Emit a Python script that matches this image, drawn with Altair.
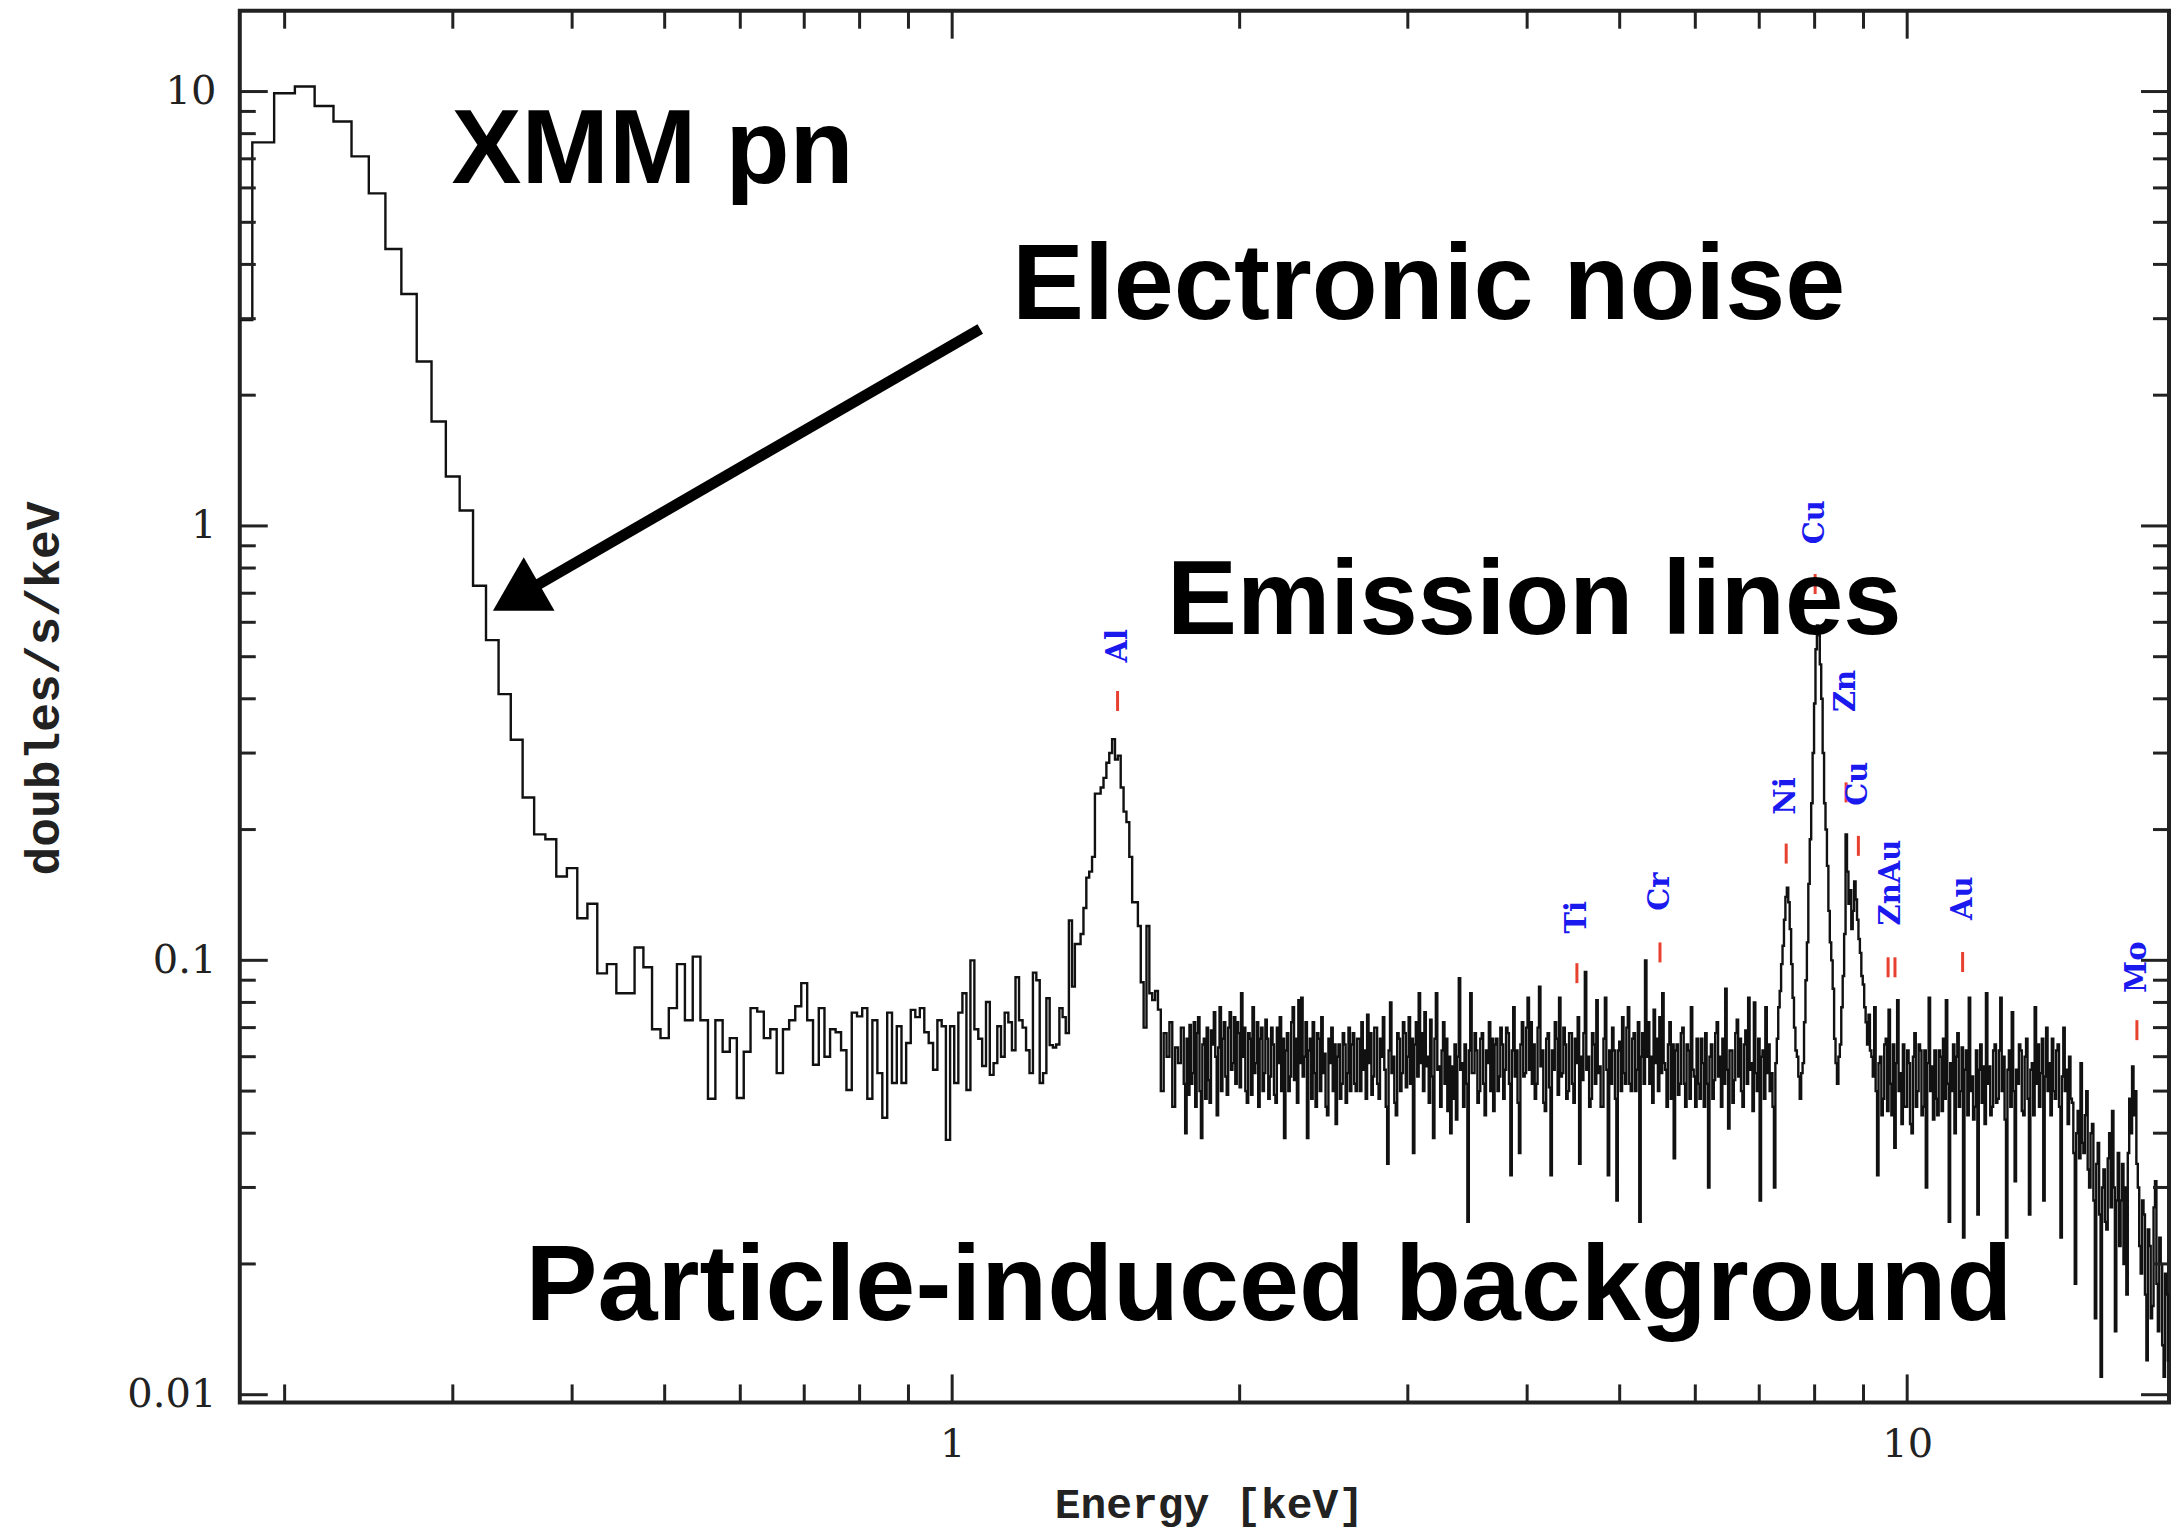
import altair as alt
import numpy as np
import pandas as pd

# ---------------- spectrum values (doubles/s/keV) ----------------
# Segment A: 10 eV channels, first channel starts at 0.175 keV
seg_a_start_kev = 0.175
seg_a_channel_kev = 0.01
seg_a_rate = [
    2.98,
    7.64, 9.91, 10.27, 9.26, 8.53, 7.09, 5.83, 4.34, 3.42, 2.39,
    1.74, 1.30, 1.085, 0.728, 0.546, 0.410, 0.322, 0.237, 0.195, 0.19,
    0.156, 0.163, 0.125, 0.135, 0.0933, 0.098, 0.084, 0.084, 0.107, 0.0964,
    0.0694, 0.0662, 0.0776, 0.098, 0.0728, 0.102,
    0.0728, 0.048, 0.0728, 0.0616, 0.0662, 0.0482, 0.0616, 0.0776, 0.0762, 0.0662,
    0.0694, 0.055, 0.0694, 0.0728, 0.0784, 0.0886, 0.0728,
    0.0575, 0.0776, 0.060, 0.0694, 0.0683, 0.0621, 0.0503, 0.0758, 0.0743, 0.0776,
    0.048, 0.0728, 0.055, 0.0434, 0.0758, 0.0522, 0.0705, 0.0522, 0.0645, 0.0769,
    0.074, 0.0776, 0.0683, 0.0645, 0.056, 0.0728, 0.0705, 0.0386, 0.0705, 0.0522,
    0.0758, 0.084, 0.0503, 0.100, 0.0694, 0.066, 0.0571, 0.0802, 0.0545, 0.058,
    0.0705, 0.060, 0.0758, 0.072, 0.0621, 0.0914, 0.0728, 0.070, 0.0621, 0.055,
    0.0937, 0.090, 0.0522, 0.055, 0.0818, 0.0638, 0.063, 0.064, 0.0776, 0.074, 0.068, 0.1235,
]

# Segment B: Al line region, log-spaced bins of 0.003 dex (units of 1e-3 doubles/s/keV)
seg_b_dlog = 0.003
seg_b_rate_milli = [
    87, 109, 109, 115, 132, 155, 160, 173, 242, 242,
    250, 263, 285, 300, 323, 290, 296, 250, 220, 208,
    173, 136, 136, 120, 89, 70, 120, 84, 81, 85,
    77, 50, 68, 60, 72, 46, 63, 58, 70,
]

# Segment C: crowded channels above ~1.75 keV, log-spaced bins of 0.0015 dex (1e-3 doubles/s/keV)
seg_c_dlog = 0.0015
seg_c_rate_milli = [
    52, 40,
    66, 49, 71, 52, 55, 72, 46, 68, 74, 50, 39, 64, 66, 48, 70, 53, 47, 69, 64, 76,
    60, 44, 63, 78, 50, 66, 72, 54, 49, 70, 76, 56, 58, 74, 52, 72, 68, 51, 84, 60,
    70, 50, 47, 68, 66, 49, 78, 55, 58, 72, 46, 66, 70, 50, 55, 73, 66, 48, 54, 70,
    64, 49, 47, 70, 58, 74, 50, 66, 39, 62, 68, 50, 54, 72, 78, 53, 66, 47, 81, 58,
    82, 54, 60, 72, 39, 62, 66, 48, 72, 55, 46, 68, 66, 50, 74, 55, 61, 46, 44, 66,
    58, 70, 50, 64, 42, 60, 64, 48, 52, 68, 64, 47, 55, 70, 50, 64, 68, 52, 50, 66,
    66, 50, 72, 56, 62, 48, 75, 58, 68, 49, 54, 70, 70, 52, 48, 66, 60, 74, 56, 46,
    34, 62, 80, 55, 60, 47, 44, 68, 66, 50, 55, 72, 68, 51, 60, 74, 52, 66, 36, 64,
    72, 54, 84, 58, 68, 50, 76, 57, 60, 47, 73, 54, 39, 66, 84, 56, 57, 46, 62, 72,
    52, 66, 45, 60, 40, 57, 48, 64, 43, 60, 91, 56, 58, 46, 64, 52, 25, 62, 84, 55,
    55, 68, 62, 47, 50, 66, 68, 52, 44, 62, 58, 72, 50, 66, 45, 64, 66, 50, 54, 70,
    64, 48, 56, 70, 68, 52, 32, 62, 78, 54, 62, 47, 36, 64, 72, 54, 55, 70, 82, 56,
    72, 52, 64, 48, 52, 70, 87, 57, 62, 47, 45, 66, 68, 51, 32, 62, 56, 72, 66, 49,
    82, 54, 55, 70, 64, 48, 50, 68, 68, 52, 47, 66, 58, 74, 34, 60, 53, 68, 94, 56,
    60, 46, 48, 68, 64, 52, 81, 55, 57, 46, 46, 66, 82, 56, 32, 62, 52, 70, 62, 48,
    28, 62, 65, 50, 74, 55, 52, 70, 78, 52, 50, 66, 68, 50, 56, 72, 25, 60, 68, 52,
    100, 60, 72, 52, 60, 47, 77, 58, 66, 50, 74, 55, 84, 58, 56, 46, 64, 72, 48, 64,
    35, 62, 64, 49, 52, 68, 70, 52, 46, 64, 62, 48, 78, 56, 54, 46, 66, 52, 48, 66,
    58, 46, 68, 52, 30, 60, 64, 48, 53, 68, 72, 54, 60, 46, 66, 52, 86, 56, 41, 62,
    62, 47, 53, 68, 73, 54, 66, 50, 46, 64, 69, 52, 82, 56, 58, 45, 80, 55, 50, 66,
    28, 60, 62, 48, 78, 55, 64, 50, 55, 46, 30, 58, 66, 78, 85, 98, 108, 124, 140, 147,
    136, 118, 98, 82, 70, 62, 60, 54, 48, 55, 58, 72, 90, 110, 150, 190, 230, 300, 390, 520,
    590, 560, 480, 400, 300, 230, 200, 165, 130, 110, 100, 86, 66, 58, 52, 60, 64, 78, 92, 115,
    195, 160, 135, 145, 118, 130, 152, 138, 124, 112, 104, 92, 88, 78, 72, 64, 75, 62, 60, 54,
    78, 50, 32, 58, 60, 44, 48, 64, 66, 45, 77, 52, 44, 64, 37, 58, 81, 50, 55, 42,
    64, 46, 46, 62, 58, 42, 40, 60, 68, 46, 50, 64, 62, 44, 46, 62, 30, 58, 82, 50,
    57, 43, 62, 48, 44, 62, 60, 45, 66, 48, 81, 52, 25, 58, 50, 64, 40, 60, 68, 46,
    50, 63, 23, 56, 62, 44, 82, 50, 54, 43, 46, 62, 26, 56, 64, 47, 57, 42, 84, 52,
    57, 44, 46, 62, 64, 47, 48, 62, 82, 50, 60, 43, 23, 56, 62, 46, 76, 50, 31, 56,
    52, 64, 62, 45, 44, 60, 66, 48, 26, 56, 58, 44, 78, 52, 64, 46, 55, 66, 28, 54,
    70, 50, 58, 44, 66, 50, 48, 62, 64, 46, 23, 54, 70, 50, 56, 42, 60, 48, 47, 36,
    18, 40, 45, 35, 58, 38, 36, 44, 50, 33, 30, 40, 42, 28, 15, 34, 38, 26, 11, 30,
    33, 25, 24, 35, 40, 27, 45, 30, 14, 28, 36, 22, 28, 34, 20, 30, 17, 36, 48, 40,
    57, 44, 50, 34, 30, 22, 19, 28, 26, 17, 12, 24, 22, 15, 16, 27, 31, 18, 14, 23,
    20, 13, 11, 19, 17, 12, 13, 18,
]

# ---------------- emission line identifications ----------------
label_names = ["Al", "Ti", "Cr", "Ni", "Cu", "Zn", "Cu", "ZnAu", "Au", "Mo"]
label_energy = [1.49, 4.51, 5.51, 7.47, 8.01, 8.63, 8.89, 9.62, 11.43, 17.4]
label_level = [0.53, 0.1256, 0.144, 0.239, 1.02, 0.417, 0.255, 0.151, 0.139, 0.0964]
marker_energy = [1.49, 4.51, 5.51, 7.47, 8.01, 8.63, 8.89, 9.55, 9.71, 11.43, 17.4]
marker_level = [0.375, 0.0886, 0.0989, 0.167, 0.697, 0.231, 0.174, 0.0914, 0.0914, 0.094, 0.0655]

# ---------------- annotations ----------------
note_texts = ["XMM pn", "Electronic noise", "Emission lines", "Particle-induced background"]
note_energy = [0.2991, 1.155, 1.679, 0.3575]
note_level = [6.15, 2.995, 0.5634, 0.01483]
note_fontsize = [105, 108, 105, 108]
arrow_energy = [1.070, 0.3494]
arrow_level = [2.841, 0.685]

# ---------------- axis ticks ----------------
x_major = [1, 10]
x_minor = [m * 10.0 ** d for d in (-1, 0) for m in range(2, 10)]
y_major = [0.01, 0.1, 1, 10]
y_minor = [m * 10.0 ** d for d in (-2, -1, 0) for m in range(2, 10)]

# ---------------- build tables ----------------
n_a = len(seg_a_rate)
edges_a = seg_a_start_kev + seg_a_channel_kev * np.arange(n_a)
seg_b_start = seg_a_start_kev + seg_a_channel_kev * n_a
n_b = len(seg_b_rate_milli)
edges_b = seg_b_start * 10.0 ** (seg_b_dlog * np.arange(n_b))
seg_c_start = seg_b_start * 10.0 ** (seg_b_dlog * n_b)
n_c = len(seg_c_rate_milli)
edges_c = seg_c_start * 10.0 ** (seg_c_dlog * np.arange(n_c + 1))
energies = list(edges_a) + list(edges_b) + list(edges_c)
rates = (list(seg_a_rate) + [v / 1000.0 for v in seg_b_rate_milli]
         + [v / 1000.0 for v in seg_c_rate_milli] + [seg_c_rate_milli[-1] / 1000.0])
spec = pd.DataFrame({"E": energies, "R": rates, "i": np.arange(len(energies))})

W, H = 1931, 1393
FRAME = "#222222"

xscale = alt.Scale(type="log", domain=[0.1795, 18.8], nice=False)
yscale = alt.Scale(type="log", domain=[0.0096, 15.35], nice=False)

xaxis = alt.Axis(
    values=x_major, format="~g", ticks=False, domain=False, grid=False,
    labelFont="DejaVu Serif", labelFontSize=40, labelColor=FRAME, labelPadding=22,
    title="Energy [keV]", titleFont="Liberation Mono", titleFontSize=43,
    titleFontWeight="bold", titleColor=FRAME, titleX=970, titleY=102,
    titleBaseline="middle", titleAlign="center")
yaxis = alt.Axis(
    values=y_major, format="~g", ticks=False, domain=False, grid=False,
    labelFont="DejaVu Serif", labelFontSize=40, labelColor=FRAME, labelPadding=24,
    title="doubles/s/keV", titleFont="Liberation Mono", titleFontSize=48,
    titleFontWeight="bold", titleColor=FRAME, titleX=-195, titleY=678,
    titleAngle=270, titleBaseline="middle", titleAlign="center")


def X(field):
    return alt.X(field, scale=xscale, axis=xaxis)


def Y(field):
    return alt.Y(field, scale=yscale, axis=yaxis)


spectrum = alt.Chart(spec).mark_line(
    interpolate="step-after", color="#111111", strokeWidth=2.4, clip=True
).encode(x=X("E:Q"), y=Y("R:Q"), order="i:Q")

arrow_df = pd.DataFrame({"E": arrow_energy, "R": arrow_level})
arrow_shaft = alt.Chart(arrow_df).mark_line(color="black", strokeWidth=11, strokeCap="butt").encode(
    x=X("E:Q"), y=Y("R:Q"))
arrow_head = alt.Chart(arrow_df.iloc[[1]]).mark_point(
    shape="triangle-up", filled=True, size=3800, angle=240, color="black", opacity=1
).encode(x=X("E:Q"), y=Y("R:Q"))

markers = alt.Chart(pd.DataFrame({"E": marker_energy, "R": marker_level})).mark_rule(
    color="#e8402f", strokeWidth=3, y2Offset=-20
).encode(x=X("E:Q"), y=Y("R:Q"), y2="R:Q")

labels = alt.Chart(pd.DataFrame({"E": label_energy, "R": label_level, "t": label_names})).mark_text(
    angle=270, font="DejaVu Serif", fontWeight="bold", fontSize=29, color="#1a1aee",
    align="center", baseline="middle"
).encode(x=X("E:Q"), y=Y("R:Q"), text="t:N")

notes = alt.Chart(pd.DataFrame({"E": note_energy, "R": note_level, "t": note_texts,
                                "fs": note_fontsize})).mark_text(
    align="left", baseline="alphabetic", font="Liberation Sans", fontWeight="bold", color="black"
).encode(x=X("E:Q"), y=Y("R:Q"), text="t:N", size=alt.Size("fs:Q", scale=None))


def ytick(vals, x0, x1):
    return alt.Chart(pd.DataFrame({"v": vals})).mark_rule(color=FRAME, strokeWidth=3).encode(
        y=Y("v:Q"), x=alt.value(x0), x2=alt.value(x1))


def xtick(vals, y0, y1):
    return alt.Chart(pd.DataFrame({"v": vals})).mark_rule(color=FRAME, strokeWidth=3).encode(
        x=X("v:Q"), y=alt.value(y0), y2=alt.value(y1))


ticks = [
    ytick(y_major, 0, 28), ytick(y_minor, 0, 16),
    ytick(y_major, W - 28, W), ytick(y_minor, W - 16, W),
    xtick(x_major, H - 28, H), xtick(x_minor, H - 18, H),
    xtick(x_major, 0, 28), xtick(x_minor, 0, 18),
]

chart = alt.layer(
    spectrum, *ticks, markers, labels, arrow_shaft, arrow_head, notes
).properties(
    width=W, height=H,
    autosize=alt.AutoSizeParams(type="none"),
    padding={"left": 232, "top": 2, "right": 4, "bottom": 127},
    background="white",
).configure_view(stroke=FRAME, strokeWidth=4)

chart.save("out.html", embed_options={"renderer": "svg", "actions": False})
